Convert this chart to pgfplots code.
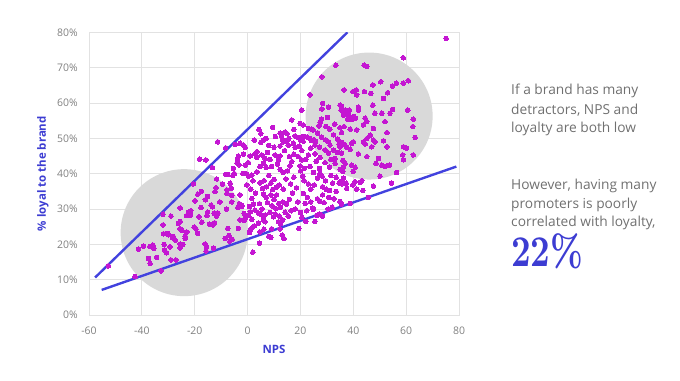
\documentclass[border=0pt]{standalone}
\usepackage{pgfplots}
\pgfplotsset{compat=1.18}
\usepackage{pgfplotstable}
\usepackage{fontspec}
\setmainfont{Open Sans}
\newfontfamily\numfont[Extension=.otf]{lmroman10-bold}
\definecolor{ptcol}{RGB}{196,22,210}
\definecolor{lineblue}{RGB}{66,66,222}
\definecolor{labblue}{RGB}{60,60,210}
\definecolor{circgray}{RGB}{217,217,217}
\definecolor{gridgray}{RGB}{226,226,226}
\definecolor{tickgray}{RGB}{128,128,128}
\definecolor{txtgray}{RGB}{112,112,112}

\pgfplotstableread{
x y
-52.7 13.9
-42.6 10.9
-41.3 18.6
-39.4 19.5
-37.5 16.0
-36.9 14.6
-37.0 19.4
-35.8 19.8
-35.5 18.8
-34.4 16.3
-32.8 12.5
-32.0 28.5
-32.0 25.5
-31.8 23.0
-31.6 20.0
-31.4 18.4
-30.3 23.1
-29.0 28.0
-29.0 15.6
-28.4 21.9
-27.1 15.6
-30.6 17.6
-29.3 19.3
-28.1 22.2
-27.4 21.2
-25.5 26.5
-25.5 20.1
-25.5 19.0
-25.5 30.3
-23.6 21.6
-23.6 22.3
-25.6 24.4
-24.8 24.0
-23.0 23.5
-23.1 28.1
-21.5 29.5
-22.4 29.1
-21.6 28.3
-20.5 37.1
-20.2 24.9
-19.5 24.3
-18.9 23.1
-19.9 32.3
-24.5 20.0
-26.2 25.9
-29.9 22.7
-18.8 34.2
-18.1 44.1
-15.8 43.9
-17.5 35.0
-16.0 32.6
-15.2 33.5
-13.8 31.1
-13.3 30.6
-17.6 30.4
-15.1 29.1
-12.7 28.8
-11.2 28.8
-11.7 28.0
-15.4 28.1
-18.4 27.8
-17.3 26.3
-14.4 25.7
-13.1 25.5
-12.5 26.1
-16.1 20.1
-15.5 19.2
-12.9 18.9
-15.7 18.1
-12.3 34.9
-13.3 41.7
-11.3 49.0
-11.7 38.5
-12.0 36.0
-10.5 32.0
-8.3 47.3
-4.7 48.3
-3.5 45.0
-3.8 44.0
-4.0 43.0
-3.2 42.5
-5.4 41.5
-8.3 39.8
-7.6 39.8
-5.0 40.0
-5.6 39.5
-6.6 37.3
-6.2 35.9
-7.8 35.4
-7.8 34.4
-6.0 33.8
-2.9 34.0
-8.5 21.7
-6.7 20.9
-5.8 21.4
-2.9 26.9
-3.1 31.5
-3.7 30.4
-6.0 32.0
-1.3 26.8
-1.3 28.7
-2.2 31.0
-0.5 40.0
-1.5 40.0
-7.5 24.5
-7.0 22.5
-3.5 24.5
-9.5 37.0
-8.0 30.0
-2.8 48.6
-1.6 48.1
-0.9 47.4
3.5 46.2
5.0 48.8
2.8 45.6
3.5 44.6
5.4 45.3
6.6 44.3
8.5 44.0
6.0 42.9
4.7 42.0
7.0 41.8
9.1 42.0
10.4 45.3
11.7 44.0
12.3 45.0
11.3 42.7
12.3 41.2
13.5 40.3
15.1 40.8
16.1 42.2
16.7 43.4
15.8 44.8
13.5 49.0
12.3 47.8
15.4 48.1
17.3 48.6
18.0 47.4
19.6 47.8
20.5 46.5
19.2 44.8
20.5 43.9
19.9 42.2
20.1 40.8
23.0 45.3
23.9 47.2
25.5 48.1
27.2 47.5
29.3 46.7
31.2 48.1
32.5 46.7
35.0 47.6
35.6 45.8
25.5 45.6
27.4 44.6
30.6 45.8
33.1 44.3
23.6 42.0
24.9 40.3
27.2 41.5
29.3 43.1
31.0 41.8
33.1 42.9
35.0 41.2
36.0 43.7
27.4 40.1
-0.9 42.4
0.3 43.1
-1.8 40.1
-0.3 39.9
4.7 37.4
6.2 38.0
5.7 35.8
7.2 36.3
8.8 37.3
10.0 38.4
10.8 36.1
12.0 36.8
13.5 35.6
16.3 37.1
-0.3 36.8
1.2 35.6
20.9 39.3
21.4 38.0
23.0 37.1
23.9 35.6
25.2 36.8
26.4 38.7
28.2 39.3
28.4 36.3
29.7 35.6
31.0 35.2
32.2 37.3
33.5 39.0
34.7 37.3
36.0 37.7
1.6 33.0
2.2 31.4
2.8 29.7
0.7 30.7
6.0 34.2
7.0 33.3
7.5 31.8
8.8 34.0
10.0 32.7
9.3 30.9
10.8 30.1
11.8 31.6
12.5 30.5
13.3 32.0
14.8 31.4
15.8 32.7
21.1 34.4
21.8 31.6
22.6 33.3
23.9 32.0
24.6 30.2
26.4 32.9
27.4 32.1
28.4 34.0
28.9 31.8
30.7 33.3
32.7 32.9
35.0 32.0
0.3 28.3
1.6 27.1
2.5 25.2
4.1 26.0
6.0 26.9
6.6 28.3
9.8 27.8
11.7 26.4
12.5 25.8
13.3 26.9
14.2 29.1
15.4 28.0
20.5 27.6
22.4 29.5
24.9 29.9
26.2 28.2
27.2 28.6
28.4 28.0
1.2 24.3
0.7 23.3
4.7 23.5
6.2 24.3
9.1 24.4
12.3 24.4
13.1 22.6
13.8 21.6
19.4 24.5
8.0 22.2
8.8 22.0
4.5 20.3
2.0 17.8
1.6 39.6
0.3 39.3
-0.9 27.4
-2.2 30.7
1.0 29.2
5.4 28.3
4.1 28.8
6.6 26.4
1.0 24.0
33.4 70.7
28.1 67.4
23.6 62.3
28.4 59.9
28.1 58.3
30.6 58.8
35.6 59.1
35.4 58.0
36.2 57.5
20.5 58.0
16.7 55.2
19.9 54.2
21.1 53.8
23.0 52.8
24.2 52.6
24.8 52.4
27.0 53.5
27.5 54.5
28.0 55.4
30.2 55.9
29.6 53.4
31.1 52.6
35.0 53.0
35.6 51.6
4.3 52.5
5.0 51.3
5.9 49.5
9.5 53.1
12.3 51.5
12.9 50.6
13.4 49.6
14.2 51.8
15.0 51.3
15.6 50.0
15.0 49.4
18.0 50.7
19.3 50.2
20.0 49.5
21.0 49.2
21.2 50.5
22.5 50.4
23.6 50.0
24.2 49.4
25.0 49.6
25.7 49.1
28.0 50.3
29.5 49.6
30.6 49.0
34.0 49.8
34.6 48.3
35.8 48.8
35.0 59.4
36.9 58.0
37.6 57.1
38.2 56.6
38.9 56.0
39.5 55.4
40.2 56.2
40.8 55.7
38.5 58.0
36.3 56.6
37.9 55.4
75.1 78.3
58.9 72.8
44.1 70.7
45.1 70.3
36.5 63.7
39.8 63.2
41.1 63.7
41.3 62.3
44.2 63.2
46.6 62.7
47.4 65.1
50.4 66.0
51.4 61.3
53.0 62.9
54.8 64.8
56.3 65.6
58.9 65.6
60.8 66.3
47.4 59.4
48.2 57.1
50.8 57.1
52.0 54.7
53.9 57.1
54.9 58.2
60.6 58.0
44.5 55.7
45.1 54.7
43.8 53.8
41.9 58.8
41.9 58.0
36.5 53.3
38.8 52.6
41.3 52.4
47.6 52.8
52.7 51.6
62.7 55.4
62.5 53.3
63.4 50.2
46.4 50.9
47.6 49.5
48.2 49.0
51.4 49.3
43.8 49.0
45.1 49.9
35.0 49.0
36.9 48.1
37.5 47.4
39.4 48.6
40.0 49.0
38.8 46.9
44.5 48.4
47.0 47.6
52.7 47.6
59.0 47.6
60.2 47.2
58.7 45.3
59.0 43.9
62.7 45.3
53.3 42.3
41.9 45.6
45.1 44.8
48.6 42.9
49.5 44.3
50.8 42.4
52.0 42.0
53.7 42.4
39.4 42.4
40.7 41.8
40.0 40.6
36.9 42.9
36.3 41.8
36.0 40.6
56.4 40.3
50.1 39.3
47.6 36.5
54.5 37.3
40.7 37.7
42.6 37.5
43.2 38.0
39.8 36.8
41.3 35.6
43.6 35.2
37.5 35.8
37.3 37.3
35.0 37.7
35.6 37.1
36.3 38.7
45.7 33.3
38.8 31.6
35.0 32.1
35.6 31.4
2.0 38.0
3.5 40.5
8.0 39.5
9.5 35.5
11.0 34.0
14.5 38.5
17.5 39.0
18.5 36.0
17.0 34.5
19.0 32.0
18.0 30.0
16.5 29.5
20.0 29.0
22.0 26.5
25.5 26.5
30.5 30.0
32.0 30.5
29.5 38.0
31.5 39.5
26.0 43.5
22.0 44.0
21.5 41.5
17.5 45.5
14.0 46.5
10.0 47.5
8.0 48.0
7.5 46.0
2.5 49.5
1.0 45.0
-1.5 45.5
3.0 34.5
4.5 31.5
5.5 30.0
8.5 29.0
10.5 28.5
12.0 28.0
33.5 35.0
34.0 46.0
31.5 44.0
26.5 51.5
32.5 51.0
33.0 54.0
17.5 52.5
10.5 50.5
7.0 50.0
}\pts

\begin{document}
\begin{tikzpicture}
\path[use as bounding box] (0,0) rectangle (680bp,381bp);
\begin{axis}[
  at={(89bp,66bp)}, anchor=south west,
  scale only axis, width=370bp, height=282.7bp,
  xmin=-60, xmax=80, ymin=0, ymax=80,
  xtick={-60,-40,-20,0,20,40,60,80},
  xticklabels={-60,-40,-20,0,20,40,60,80},
  ytick={0,10,20,30,40,50,60,70,80},
  yticklabels={0\%,10\%,20\%,30\%,40\%,50\%,60\%,70\%,80\%},
  grid=major,
  grid style={draw=gridgray, line width=0.9pt},
  axis line style={draw=gridgray, line width=0.9pt},
  major tick length=0pt,
  tick label style={font=\fontsize{10.5}{12}\selectfont, text=tickgray},
  xticklabel style={anchor=center, yshift=-16bp},
  yticklabel style={anchor=east, inner sep=0pt, xshift=-11bp},
  xlabel={NPS},
  ylabel={\% loyal to the brand},
  label style={font=\fontsize{11.5}{13}\selectfont\bfseries, text=labblue},
  xlabel style={at={(axis description cs:0.5,-0.1203)}, anchor=center},
  ylabel style={at={(axis description cs:-0.1243,0.5)}, anchor=center},
]
\fill[circgray] (axis cs:-24.0,23.3) circle[radius=63.5bp];
\fill[circgray] (axis cs:46.0,56.3) circle[radius=63.5bp];
\addplot[only marks, mark=*, mark size=2.3pt, mark options={fill=ptcol, draw=ptcol, line width=0pt}] table[x=x, y=y] {\pts};
\addplot[no marks, draw=lineblue, line width=2.4pt] coordinates {(-57.7,10.6) (37.8,80)};
\addplot[no marks, draw=lineblue, line width=2.4pt] coordinates {(-55.2,7.1) (79,42)};
\end{axis}
\begin{scope}[every node/.style={anchor=base west, inner sep=0pt, text=txtgray, font=\fontsize{13.8}{16}\selectfont}]
\node at (511bp,286bp) {If a brand has many};
\node at (511bp,266.7bp) {detractors, NPS and};
\node at (511bp,248.3bp) {loyalty are both low};
\node at (511bp,191bp) {However, having many};
\node at (511bp,172.7bp) {promoters is poorly};
\node at (511bp,154.3bp) {correlated with loyalty,};
\end{scope}
\node[anchor=base west, inner sep=0pt, text=labblue] at (511bp,114.3bp) {\scalebox{0.78}[1]{\numfont\fontsize{44}{44}\selectfont 22\%}};
\end{tikzpicture}
\end{document}
